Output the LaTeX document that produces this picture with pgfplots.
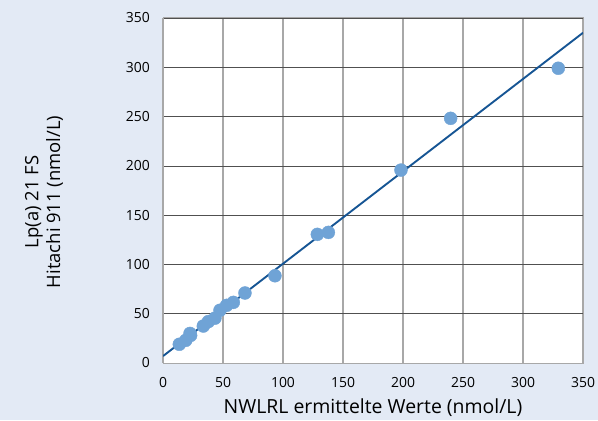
\documentclass[border=0pt]{standalone}
\usepackage{fontspec}
\setmainfont{Open Sans}
\usepackage{pgfplots}
\pgfplotsset{compat=1.18}
\definecolor{bg}{HTML}{E3EAF5}
\definecolor{dots}{HTML}{6FA3D6}
\definecolor{fitc}{HTML}{165594}
\definecolor{hgrid}{HTML}{505050}
\definecolor{vgrid}{HTML}{A8A8A8}
\begin{document}
\begin{tikzpicture}[x=1bp,y=1bp]
\fill[bg] (0,0) rectangle (598,420);
\begin{axis}[at={(163bp,57bp)}, anchor=south west, scale only axis,
  width=420bp, height=345bp,
  xmin=0,xmax=350,ymin=0,ymax=350,
  xtick={0,50,...,350}, ytick={0,50,...,350},
  axis background/.style={fill=white},
  axis line style={draw=vgrid, line width=1pt},
  major tick length=0pt,
  grid=major,
  x grid style={vgrid, line width=1.3pt},
  y grid style={hgrid, line width=0.7pt},
  tick label style={font=\fontsize{14}{16}\selectfont, inner sep=0pt},
  /pgf/number format/assume math mode=true,
  xticklabel style={anchor=center, yshift=-20bp},
  yticklabel style={anchor=east, xshift=-13bp},
  xlabel={NWLRL ermittelte Werte (nmol/L)},
  xlabel style={at={(axis description cs:0.5,0)}, anchor=center, yshift=-45bp, font=\fontsize{19.5}{22}\selectfont},
  ylabel={Lp(a) 21 FS\\Hitachi 911 (nmol/L)},
  ylabel style={at={(axis description cs:0,0.467)}, anchor=center, yshift=119bp, align=center, font=\fontsize{18.5}{22}\selectfont},
]
\addplot[fitc, line width=1.9pt] coordinates {(0,7) (350,335)};
\addplot[only marks, color=dots, mark=*, mark size=6.5pt, mark options={fill=dots, draw=none}] coordinates {
(13.6,19) (19,23) (22.5,30) (23,28)
(33.6,37.5) (37.8,42) (43.3,45.5) (47.5,53.5) (53,58.5) (58.6,61.5) (68.3,71)
(93.3,88.5) (128.6,130.5) (137.8,132.5) (198.3,195.7) (239.7,248.2) (329.4,299)
};
\end{axis}
\end{tikzpicture}
\end{document}
